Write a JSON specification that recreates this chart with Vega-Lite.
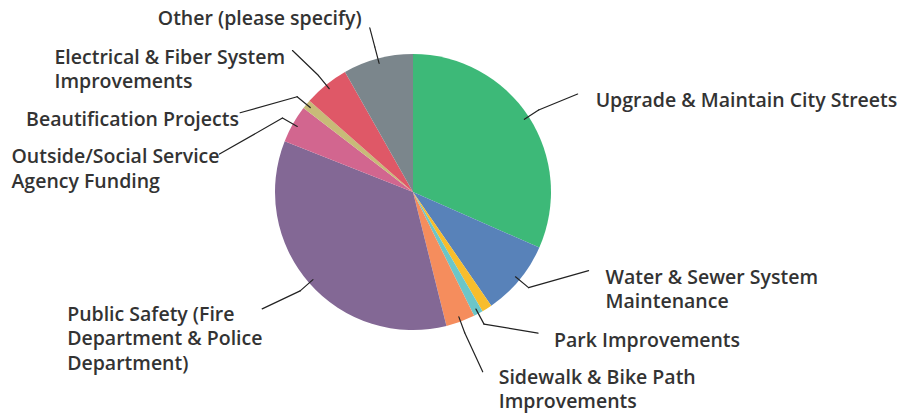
{
  "$schema": "https://vega.github.io/schema/vega-lite/v6.json",
  "autosize": "none",
  "width": 826,
  "height": 384,
  "padding": {"left": 0, "top": 0, "right": 77, "bottom": 31},
  "background": "white",
  "config": {"view": {"stroke": null}},
  "data": {"values": [
    {"category": "Upgrade & Maintain City Streets", "label": "Upgrade & Maintain City Streets", "pct": 31.6, "ord": 0},
    {"category": "Water & Sewer System Maintenance", "label": "Water & Sewer System\nMaintenance", "pct": 8.8, "ord": 1},
    {"category": "Unlabeled", "label": "", "pct": 1.2, "ord": 2},
    {"category": "Park Improvements", "label": "Park Improvements", "pct": 1.1, "ord": 3},
    {"category": "Sidewalk & Bike Path Improvements", "label": "Sidewalk & Bike Path\nImprovements", "pct": 3.4, "ord": 4},
    {"category": "Public Safety (Fire Department & Police Department)", "label": "Public Safety (Fire\nDepartment & Police\nDepartment)", "pct": 34.9, "ord": 5},
    {"category": "Outside/Social Service Agency Funding", "label": "Outside/Social Service\nAgency Funding", "pct": 4.4, "ord": 6},
    {"category": "Beautification Projects", "label": "Beautification Projects", "pct": 1.1, "ord": 7},
    {"category": "Electrical & Fiber System Improvements", "label": "Electrical & Fiber System\nImprovements", "pct": 5.3, "ord": 8},
    {"category": "Other (please specify)", "label": "Other (please specify)", "pct": 8.2, "ord": 9}
  ]},
  "transform": [
    {"stack": "pct", "groupby": [], "sort": [{"field": "ord", "order": "ascending"}], "as": ["s0", "s1"]},
    {"calculate": "(datum.s0 + datum.s1) / 200 * 2 * PI", "as": "a"},
    {"calculate": "sin(datum.a)", "as": "sx"},
    {"calculate": "-cos(datum.a)", "as": "sy"},
    {"calculate": "133 * datum.sx", "as": "x0"},
    {"calculate": "133 * datum.sy", "as": "y0"},
    {"calculate": "150 * datum.sx", "as": "x1"},
    {"calculate": "150 * datum.sy", "as": "y1"},
    {"calculate": "datum.x1 + [39, 60, 0, 54, 18, -38, -63, -57, -26, -5][datum.ord]", "as": "x2"},
    {"calculate": "datum.y1 + [-16, -17, 0, 9, 39, 18, 36, 16, -25, -19][datum.ord]", "as": "y2"},
    {"calculate": "datum.x1 + [57, 77, 0, 70, 34, -233, -271, -271, -264, -217][datum.ord]", "as": "lx"},
    {"calculate": "datum.y1 + [-9, -10, 0, 17, 45, 24, 39, 23, -18, -28][datum.ord]", "as": "ly"}
  ],
  "layer": [
    {
      "mark": {"type": "arc", "outerRadius": 138},
      "encoding": {
        "theta": {"field": "s0", "type": "quantitative", "stack": null, "scale": {"domain": [0, 100]}},
        "theta2": {"field": "s1"},
        "color": {
          "field": "category", "type": "nominal", "legend": null,
          "scale": {
            "domain": ["Upgrade & Maintain City Streets", "Water & Sewer System Maintenance", "Unlabeled", "Park Improvements", "Sidewalk & Bike Path Improvements", "Public Safety (Fire Department & Police Department)", "Outside/Social Service Agency Funding", "Beautification Projects", "Electrical & Fiber System Improvements", "Other (please specify)"],
            "range": ["#3db978", "#5882b9", "#f8bd2c", "#6cc6c8", "#f58d5d", "#836895", "#d2668f", "#c8bb78", "#df5867", "#7b868c"]
          }
        }
      }
    },
    {
      "transform": [{"filter": "datum.label != ''"}],
      "mark": {"type": "rule", "stroke": "#222222", "strokeWidth": 1.2, "strokeCap": "round"},
      "encoding": {
        "x": {"field": "x0", "type": "quantitative", "axis": null, "scale": {"domain": [-413, 413], "nice": false, "zero": false}},
        "y": {"field": "y0", "type": "quantitative", "axis": null, "scale": {"domain": [-192, 192], "nice": false, "zero": false, "reverse": true}},
        "x2": {"field": "x1"},
        "y2": {"field": "y1"}
      }
    },
    {
      "transform": [{"filter": "datum.label != ''"}],
      "mark": {"type": "rule", "stroke": "#222222", "strokeWidth": 1.2, "strokeCap": "round"},
      "encoding": {
        "x": {"field": "x1", "type": "quantitative", "axis": null},
        "y": {"field": "y1", "type": "quantitative", "axis": null},
        "x2": {"field": "x2"},
        "y2": {"field": "y2"}
      }
    },
    {
      "transform": [{"filter": "datum.label != ''"}],
      "mark": {"type": "text", "align": "left", "baseline": "middle", "lineBreak": "\n", "lineHeight": 24.5, "font": "Open Sans", "fontSize": 19.5, "fontWeight": 600, "fill": "#333333"},
      "encoding": {
        "x": {"field": "lx", "type": "quantitative", "axis": null},
        "y": {"field": "ly", "type": "quantitative", "axis": null},
        "text": {"field": "label"}
      }
    }
  ]
}
